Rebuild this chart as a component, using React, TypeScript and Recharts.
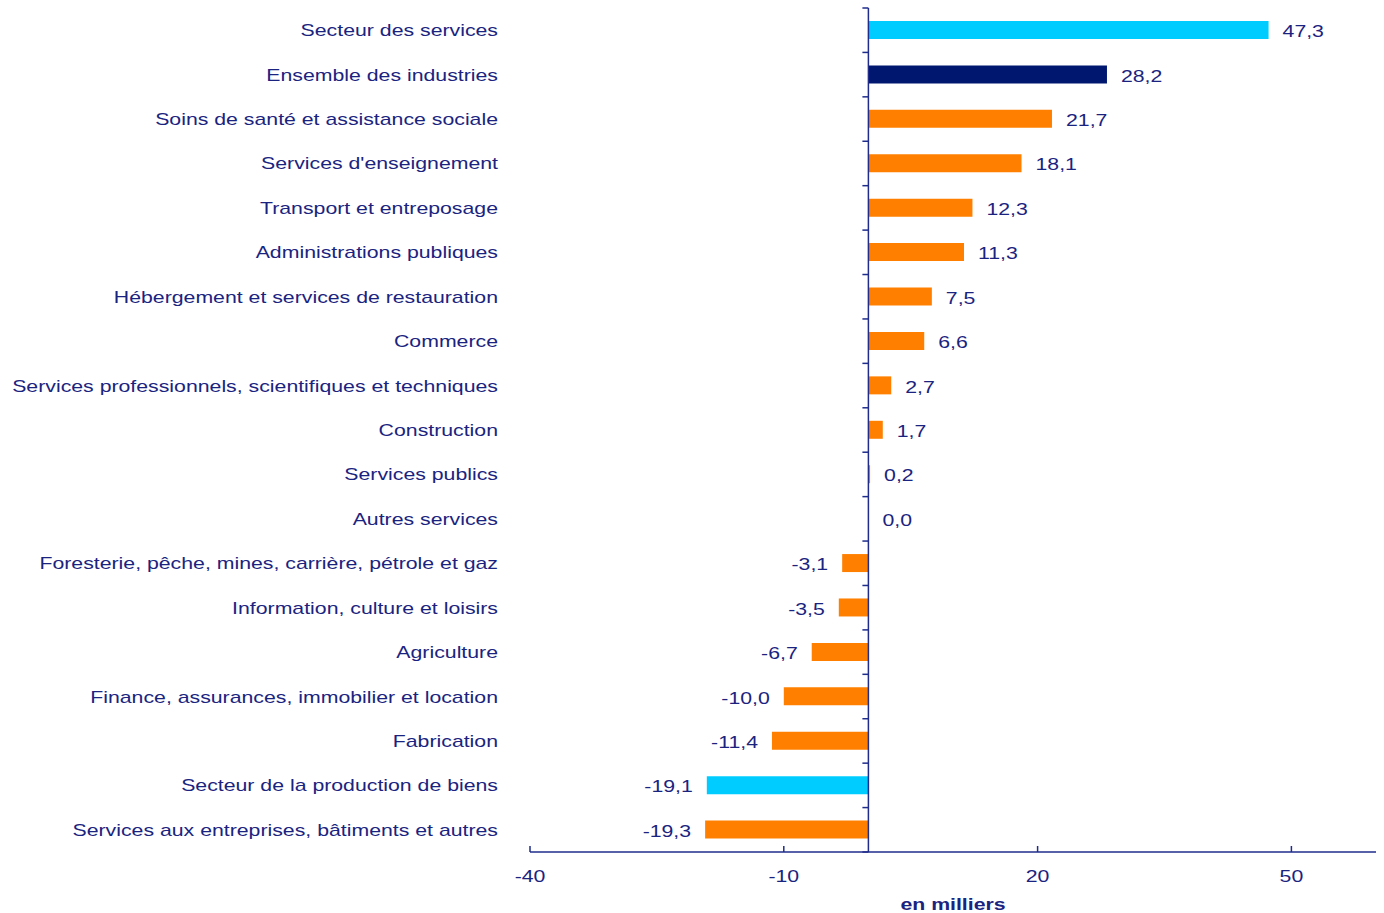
import { BarChart, Bar, XAxis, YAxis, Cell, ReferenceLine, ReferenceDot } from "recharts";

const categories = [
  "Secteur des services",
  "Ensemble des industries",
  "Soins de santé et assistance sociale",
  "Services d'enseignement",
  "Transport et entreposage",
  "Administrations publiques",
  "Hébergement et services de restauration",
  "Commerce",
  "Services professionnels, scientifiques et techniques",
  "Construction",
  "Services publics",
  "Autres services",
  "Foresterie, pêche, mines, carrière, pétrole et gaz",
  "Information, culture et loisirs",
  "Agriculture",
  "Finance, assurances, immobilier et location",
  "Fabrication",
  "Secteur de la production de biens",
  "Services aux entreprises, bâtiments et autres",
];

const values = [47.3, 28.2, 21.7, 18.1, 12.3, 11.3, 7.5, 6.6, 2.7, 1.7, 0.2, 0.0, -3.1, -3.5, -6.7, -10.0, -11.4, -19.1, -19.3];

// 0 = secteur (cyan), 1 = total (navy), 2 = industrie (orange)
const kinds = [0, 1, 2, 2, 2, 2, 2, 2, 2, 2, 2, 2, 2, 2, 2, 2, 2, 0, 2];

const xTicks = [-40, -10, 20, 50];

const palette = ["#00CCFF", "#00176F", "#FF8000"];
const navy = "#1a2480";
const axisColor = "#1f2c8c";
const font = "'Liberation Sans', Arial, sans-serif";
const stretch = 1.33;

const data = categories.map((name, i) => ({ name, value: values[i], kind: kinds[i], label: values[i].toFixed(1).replace(".", ",") }));

// the original text is a wide, horizontally stretched Arial
function Wide({ x, y, anchor, children, bold }: any) {
  return (
    <text
      transform={`translate(${x},${y}) scale(${stretch},1)`}
      textAnchor={anchor}
      fill={navy}
      fontSize={16}
      fontWeight={bold ? "bold" : "normal"}
      fontFamily={font}
    >
      {children}
    </text>
  );
}

function CategoryTick({ x, y, payload }: any) {
  return (
    <Wide x={x - 24} y={y + 6} anchor="end">
      {payload.value}
    </Wide>
  );
}

function ValueTick({ x, y, payload }: any) {
  return (
    <g>
      <line x1={x} y1={y - 8} x2={x} y2={y - 14} stroke={axisColor} strokeWidth={1.5} />
      <Wide x={x} y={y + 22} anchor="middle">
        {payload.value}
      </Wide>
    </g>
  );
}

function ZeroLine(props: any) {
  const { x1, y1, y2 } = props;
  const n = categories.length;
  const step = (y2 - y1) / n;
  const marks = Array.from({ length: n + 1 }, (_, i) => y1 + i * step);
  return (
    <g>
      <line x1={x1} y1={y1} x2={x1} y2={y2} stroke={axisColor} strokeWidth={1.5} />
      {marks.map((my, i) => (
        <line key={i} x1={x1 - 6} y1={my} x2={x1} y2={my} stroke={axisColor} strokeWidth={1.5} />
      ))}
    </g>
  );
}

// value label placed at the end of each bar
const endLabel = (d: { value: number; label: string }) => (props: any) => {
  const { cx, cy } = props;
  const pos = d.value >= 0;
  return (
    <Wide x={pos ? cx + 14 : cx - 14} y={cy + 7} anchor={pos ? "start" : "end"}>
      {d.label}
    </Wide>
  );
};

function UnitLabel({ viewBox }: any) {
  const { x, y, width, height } = viewBox;
  return (
    <Wide x={x + width / 2} y={y + height - 3} anchor="middle" bold>
      en milliers
    </Wide>
  );
}

export default function App() {
  return (
    <div style={{ position: "absolute", left: 0, top: 0, width: 1384, height: 913, background: "#fff" }}>
      <BarChart width={1384} height={913} data={data} layout="vertical" margin={{ top: 8, right: 8, bottom: 0, left: 0 }}>
        <XAxis
          type="number"
          domain={[-40, 60]}
          ticks={xTicks}
          height={61}
          axisLine={{ stroke: axisColor, strokeWidth: 1.5 }}
          tickLine={false}
          tick={<ValueTick />}
          label={<UnitLabel />}
        />
        <YAxis type="category" dataKey="name" width={530} axisLine={false} tickLine={false} tick={<CategoryTick />} interval={0} />
        <ReferenceLine x={0} shape={<ZeroLine />} />
        <Bar dataKey="value" barSize={18} isAnimationActive={false}>
          {data.map((d, i) => (
            <Cell key={i} fill={palette[d.kind]} />
          ))}
        </Bar>
        {data.map((d) => (
          <ReferenceDot key={d.name} x={d.value} y={d.name} r={0} shape={endLabel(d)} />
        ))}
      </BarChart>
    </div>
  );
}
